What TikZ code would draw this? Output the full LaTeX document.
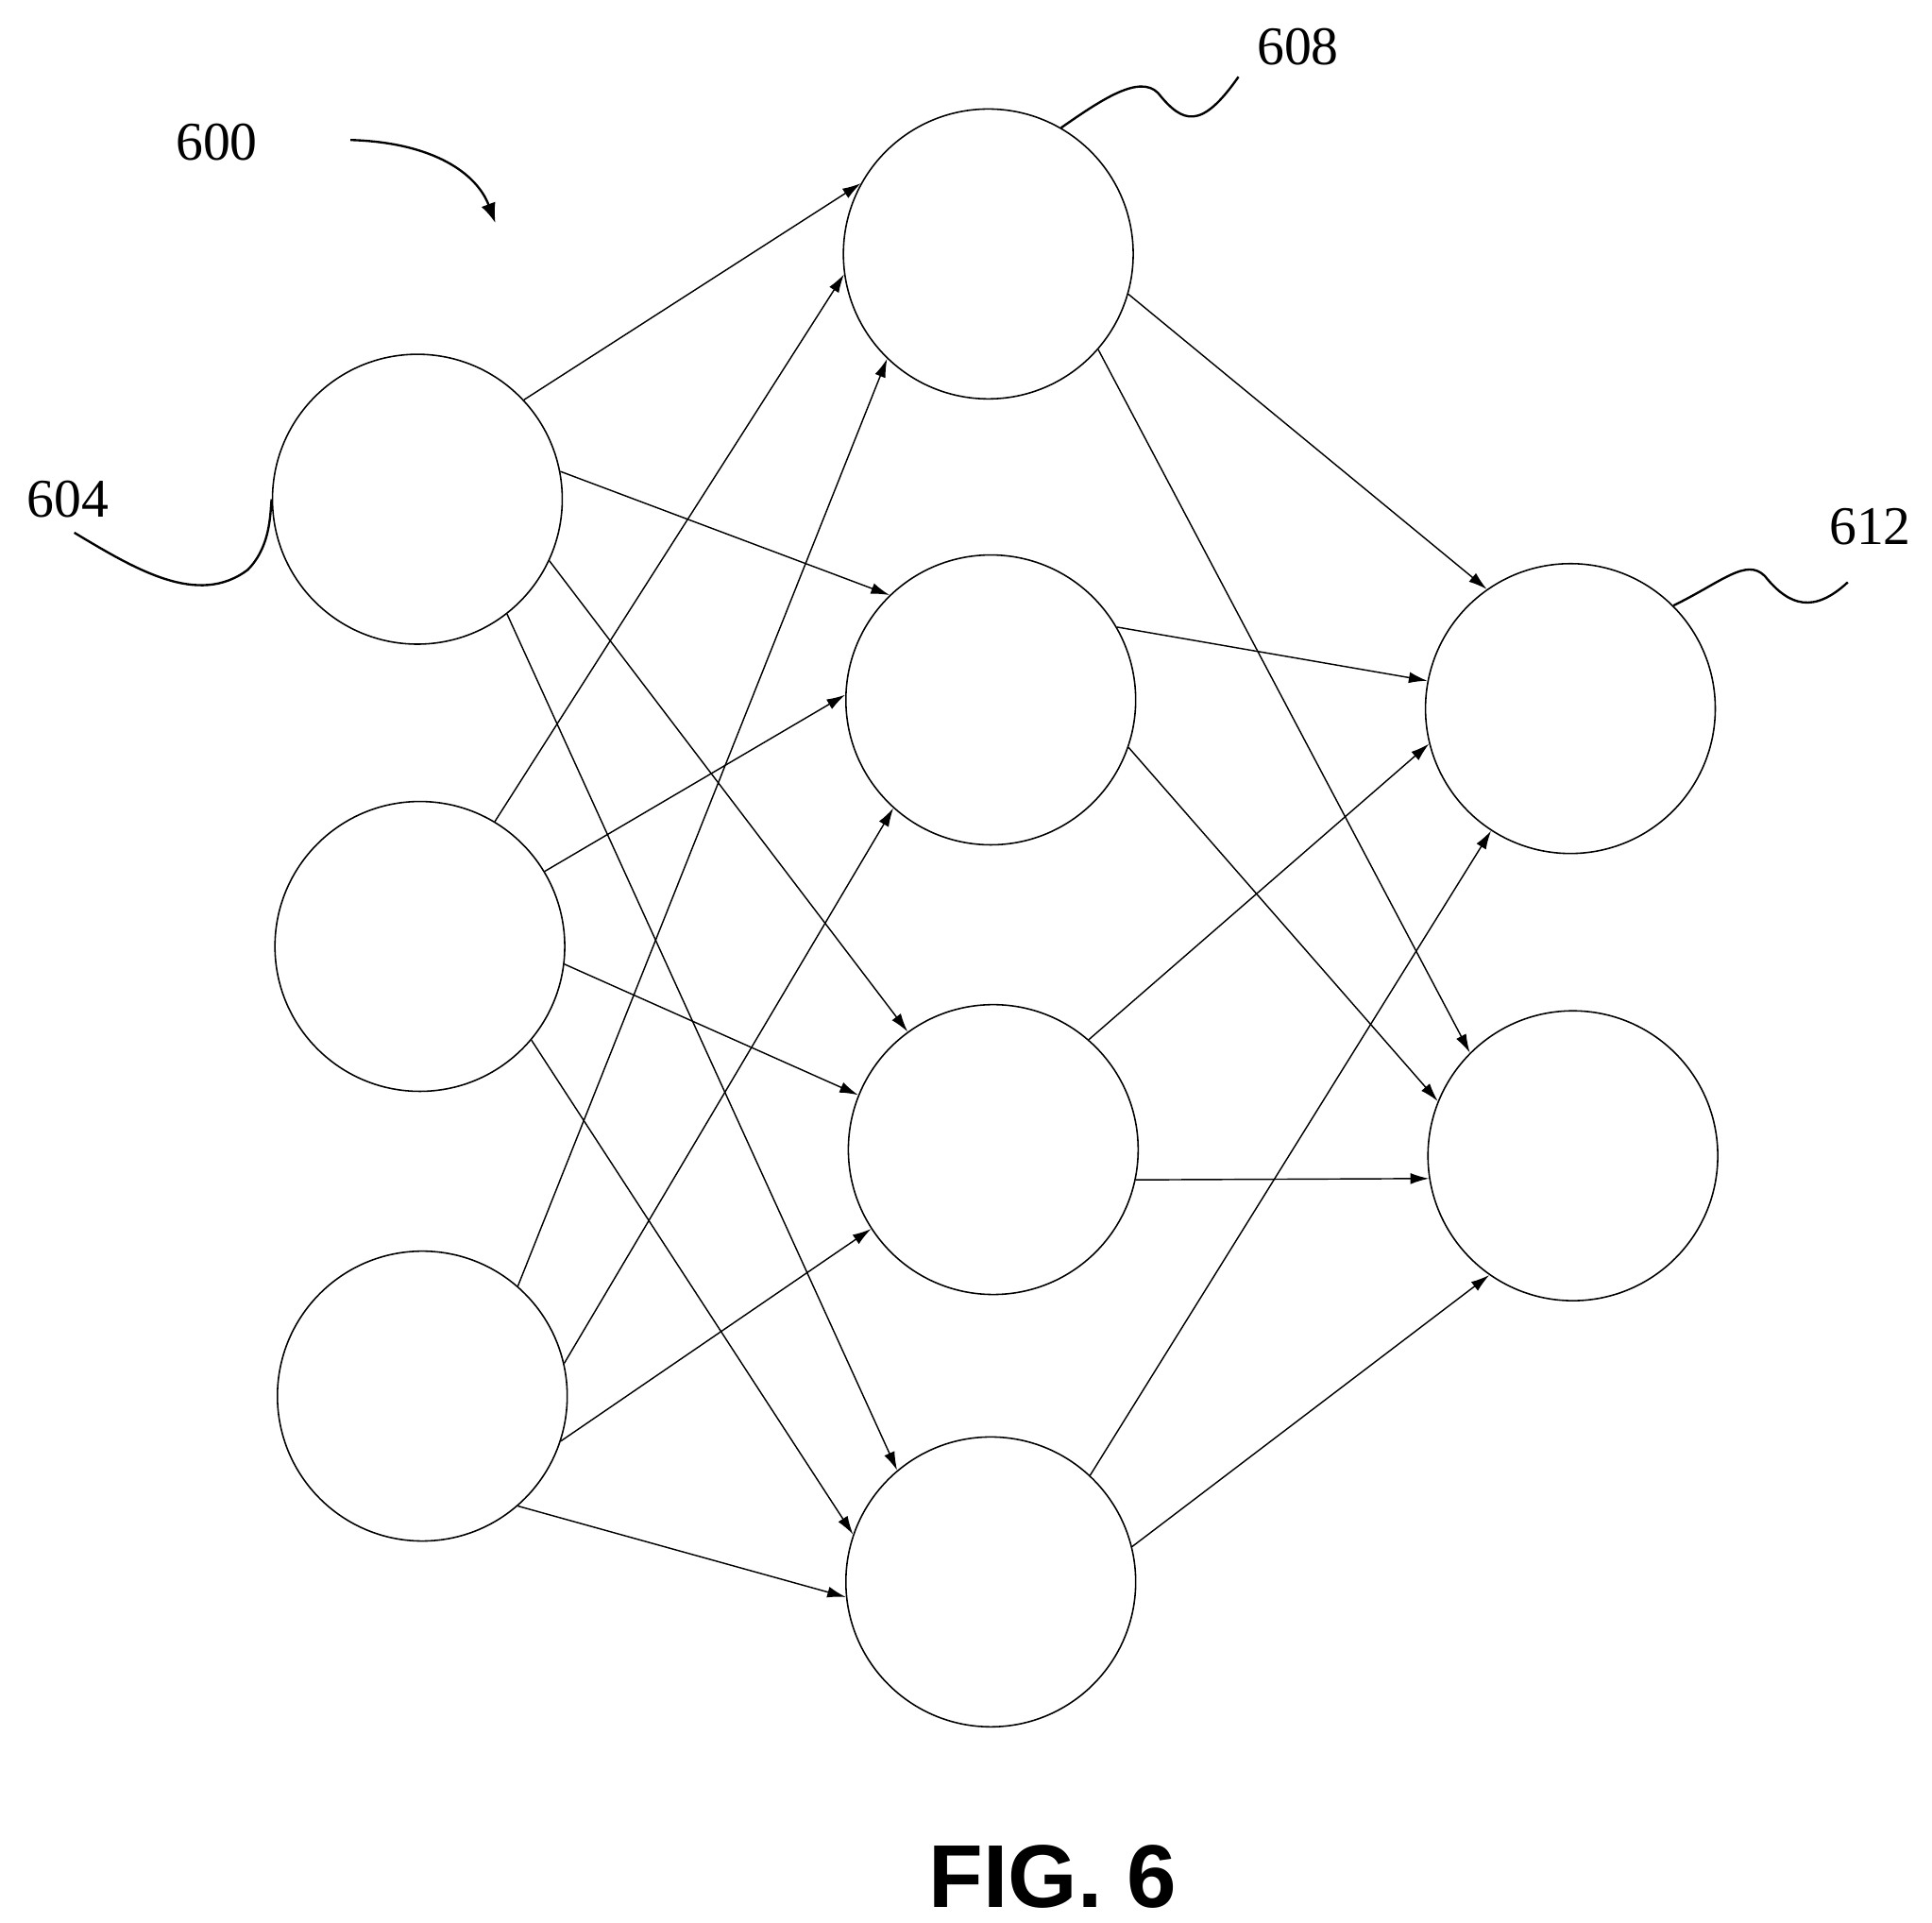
\documentclass[tikz,border=0pt]{standalone}
\usepackage{fontspec}
\setmainfont{Liberation Serif}
\newfontfamily\figfont{Liberation Sans}
\usetikzlibrary{arrows.meta}
\begin{document}
\begin{tikzpicture}[x=1pt,y=-1pt,
    neuron/.style={draw,circle,minimum size=234pt,inner sep=0pt,line width=1.2pt},
    link/.style={line width=1.1pt,-{Latex[length=15pt,width=9pt]}},
    lead/.style={line width=1.8pt},
    num/.style={font=\fontsize{44}{50}\selectfont}]
\useasboundingbox (0,0) rectangle (1560,1552);
% layers
\node[neuron] (in1) at (337,403) {};
\node[neuron] (in2) at (339,764) {};
\node[neuron] (in3) at (341,1127) {};
\node[neuron] (hid1) at (798,205) {};
\node[neuron] (hid2) at (800,565) {};
\node[neuron] (hid3) at (802,928) {};
\node[neuron] (hid4) at (800,1277) {};
\node[neuron] (out1) at (1268,572) {};
\node[neuron] (out2) at (1270,933) {};
% connections (source/angle/target/angle)
\foreach \a/\s/\b/\e in {in1/43/hid1/151, in1/11/hid2/134, in1/-25/hid3/126, in1/-52/hid4/130,
    in2/59/hid1/188, in2/31/hid2/178, in2/-7/hid3/158, in2/-40/hid4/161,
    in3/49/hid1/226, in3/13/hid2/228, in3/-18/hid3/213, in3/-49/hid4/186,
    hid1/-16/out1/125, hid1/-41/out2/135, hid2/30/out1/169, hid2/-19/out2/158,
    hid3/49/out1/194, hid3/-12/out2/189, hid4/47/out1/237, hid4/14/out2/235}
  \draw[link] (\a.\s) -- (\b.\e);
% reference numerals
\node[num] (n600) at (175,115) {600};
\node[num] (n604) at (55,403) {604};
\node[num] (n608) at (1048,38) {608};
\node[num] (n612) at (1510,425) {612};
\coordinate (a600) at (283,113);
\coordinate (b600) at (400,180);
\draw[lead,-{Latex[length=16pt,width=12pt]}] (a600) .. controls (350,115) and (385,140) .. (b600);
\coordinate (a604) at (60,430);
\draw[lead] (a604) .. controls (110,460) and (160,490) .. (200,460) .. controls (220,440) and (218,410) .. (in1.west);
\coordinate (a608) at (1000,62);
\draw[lead] (hid1.60) .. controls (890,80) and (920,60) .. (935,75) .. controls (955,100) and (970,105) .. (a608);
\coordinate (a612) at (1492,470);
\draw[lead] (out1.45) .. controls (1390,470) and (1410,450) .. (1425,465) .. controls (1445,490) and (1465,495) .. (a612);
\node[font=\fontsize{72}{76}\selectfont\figfont\bfseries] (cap) at (850,1515) {FIG. 6};
\end{tikzpicture}
\end{document}
